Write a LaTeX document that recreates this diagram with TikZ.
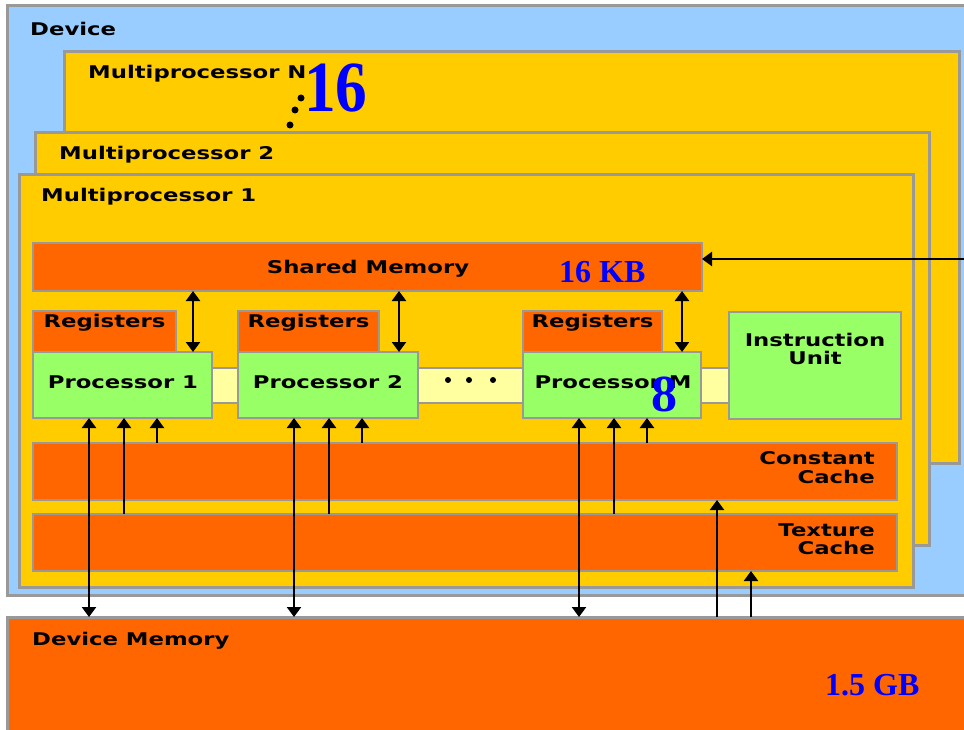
\documentclass[tikz,border=0pt]{standalone}
\usepackage{fontspec}
\usetikzlibrary{arrows.meta,calc}
\newfontfamily\lblfont[FakeStretch=1.3]{DejaVu Sans Bold}
\newfontfamily\numfont{Liberation Serif Bold}
\definecolor{devblue}{HTML}{99CCFF}
\definecolor{mpyellow}{HTML}{FFCC00}
\definecolor{memorange}{HTML}{FF6600}
\definecolor{procgreen}{HTML}{99FF66}
\definecolor{buscream}{HTML}{FFFFA0}
\definecolor{edgegrey}{HTML}{999999}
\definecolor{numblue}{HTML}{0000FF}
% rectangle node given by its left, top, right and bottom edges
\newcommand{\rectnode}[7][]{%
  \node[blockbox, fill=#3, minimum width={#6-#4}, minimum height={#7-#5}, #1] (#2) at (#4,#5) {};}
\begin{document}
\begin{tikzpicture}[x=1pt, y=-1pt,
  blockbox/.style={draw=edgegrey, line width=2.5pt, inner sep=0pt, outer sep=0pt, anchor=north west},
  lbl/.style={font=\lblfont\fontsize{17.5}{20}\selectfont, inner sep=0pt, text=black},
  num/.style={font=\numfont\fontsize{32}{36}\selectfont, inner sep=0pt, text=numblue, anchor=base west},
  onehead/.style={line width=2.4pt, -{Triangle[width=14pt,length=10pt]}},
  twohead/.style={line width=2.4pt, {Triangle[width=14pt,length=10pt]}-{Triangle[width=14pt,length=10pt]}},
  blob/.style={fill=black, draw=none}]
\clip (0,0) rectangle (964,730);
\fill[white] (0,0) rectangle (964,730);

% device and the stacked multiprocessors
\rectnode[line width=3pt]{dev}{devblue}{7}{6}{990}{595}
\rectnode[line width=3pt]{mpn}{mpyellow}{64}{52}{959}{463}
\rectnode[line width=3pt]{mp2}{mpyellow}{35}{133}{929}{545}
\rectnode[line width=3pt]{mp1}{mpyellow}{19}{175}{913}{587}

% inside multiprocessor 1
\rectnode{sm}{memorange}{33}{243}{702}{291}
\rectnode{bus}{buscream}{200}{368}{740}{403}
\rectnode{reg1}{memorange}{33}{311}{176}{352}
\rectnode{p1}{procgreen}{33}{352}{212}{418}
\rectnode{reg2}{memorange}{238}{311}{379}{352}
\rectnode{p2}{procgreen}{238}{352}{418}{418}
\rectnode{regm}{memorange}{523}{311}{662}{352}
\rectnode{pm}{procgreen}{523}{352}{701}{418}
\rectnode{iu}{procgreen}{729}{312}{901}{419}
\rectnode{cc}{memorange}{33}{443}{897}{500}
\rectnode{tc}{memorange}{33}{514}{897}{571}

% device memory
\rectnode[line width=3pt]{dm}{memorange}{7}{617}{990}{760}

% labels
\node[lbl, anchor=base west] (tdev) at (30,36) {Device};
\node[lbl, anchor=base west] (tmpn) at (88,79) {Multiprocessor N};
\node[lbl, anchor=base west] (tmp2) at (59,160) {Multiprocessor 2};
\node[lbl, anchor=base west] (tmp1) at (41,202) {Multiprocessor 1};
\node[lbl, anchor=base] (tsm) at (368,273) {Shared Memory};
\node[lbl, anchor=base] (treg1) at (104.5,327) {Registers};
\node[lbl, anchor=base] (treg2) at (308.5,327) {Registers};
\node[lbl, anchor=base] (tregm) at (592.5,327) {Registers};
\node[lbl, anchor=base] (tp1) at (123,388) {Processor 1};
\node[lbl, anchor=base] (tp2) at (328,388) {Processor 2};
\node[lbl, anchor=base] (tpm) at (613,388) {Processor M};
\node[lbl, anchor=base] (tiu1) at (815,346) {Instruction};
\node[lbl, anchor=base] (tiu2) at (815,364) {Unit};
\node[lbl, anchor=base east] (tcc1) at (875,464) {Constant};
\node[lbl, anchor=base east] (tcc2) at (875,483) {Cache};
\node[lbl, anchor=base east] (ttc1) at (875,536) {Texture};
\node[lbl, anchor=base east] (ttc2) at (875,554) {Cache};
\node[lbl, anchor=base west] (tdm) at (32,645) {Device Memory};

% blue size annotations
\node[num, font=\numfont\fontsize{72}{76}\selectfont] (n16) at (304,112) {\scalebox{0.88}[1]{16}};
\node[num] (nkb) at (559,283) {16 KB};
\node[num, font=\numfont\fontsize{52}{56}\selectfont] (n8) at (651,411) {8};
\node[num] (ngb) at (825,695) {1.5 GB};

% ellipsis dots
\fill[blob] (301,98) circle (3.5);
\fill[blob] (295,110) circle (3.5);
\fill[blob] (290,125) circle (3.5);
\fill[blob] (448,380) circle (3);
\fill[blob] (469,380) circle (3);
\fill[blob] (493,380) circle (3);

% shared memory <-> processors
\draw[twohead] ([xshift=-19pt]p1.north east) -- ([xshift=-19pt]p1.north east |- sm.south);
\draw[twohead] ([xshift=-19pt]p2.north east) -- ([xshift=-19pt]p2.north east |- sm.south);
\draw[twohead] ([xshift=-19pt]pm.north east) -- ([xshift=-19pt]pm.north east |- sm.south);

% processors <-> device memory and caches
\foreach \p in {p1,p2,pm}{
  \draw[twohead] ($(\p.south west)+(56,0)$) -- ($(\p.south west |- dm.north)+(56,0)$);
  \draw[onehead] ($(\p.south west |- tc.north)+(91,0)$) -- ($(\p.south west)+(91,0)$);
  \draw[onehead] ($(\p.south west |- cc.north)+(124,0)$) -- ($(\p.south west)+(124,0)$);
}

% device memory -> caches
\draw[onehead] ($(cc.south east |- dm.north)+(-180,0)$) -- ($(cc.south east)+(-180,0)$);
\draw[onehead] ($(tc.south east |- dm.north)+(-146,0)$) -- ($(tc.south east)+(-146,0)$);

% incoming link to shared memory
\coordinate (smin) at (964,259);
\draw[onehead] (smin) -- (sm.east |- smin);
\end{tikzpicture}
\end{document}
